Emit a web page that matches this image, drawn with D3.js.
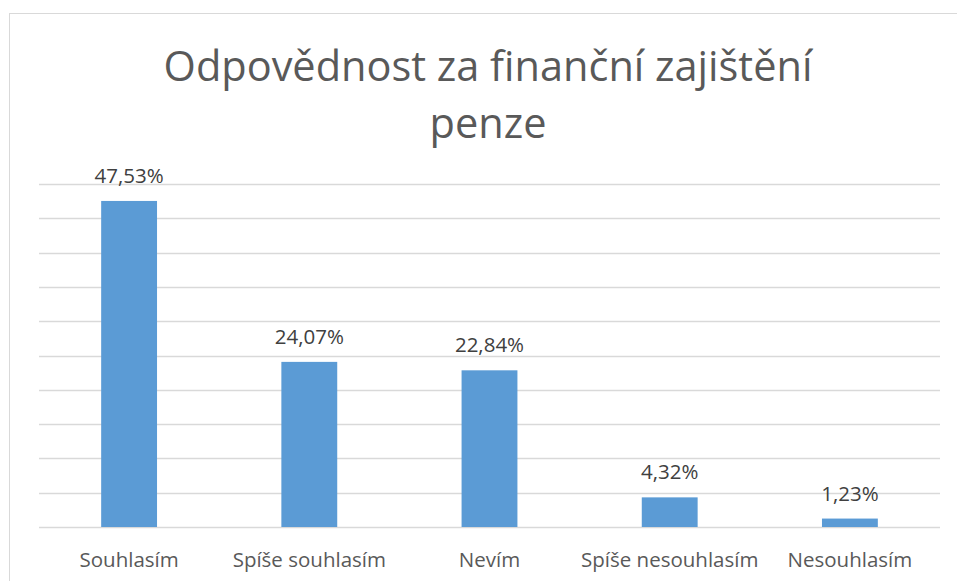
<!DOCTYPE html>
<html>
<head>
<meta charset="utf-8">
<script src="https://cdn.jsdelivr.net/npm/d3@7"></script>
<style>
  body { margin: 0; background: #fff; }
  text { font-family: "Open Sans", "Noto Sans", sans-serif; }
</style>
</head>
<body>
<script>
var categories = ['Souhlasím', 'Spíše souhlasím', 'Nevím', 'Spíše nesouhlasím', 'Nesouhlasím'];
var values = [47.53, 24.07, 22.84, 4.32, 1.23];
var valueLabels = ['47,53%', '24,07%', '22,84%', '4,32%', '1,23%'];
var gridTicks = [0, 5, 10, 15, 20, 25, 30, 35, 40, 45, 50];
var titleLines = ['Odpovědnost za finanční zajištění', 'penze'];

var width = 957;
var height = 581;
var plot = {left: 39, right: 940, top: 184, bottom: 527};

var svg = d3.select('body').append('svg')
  .attr('width', width)
  .attr('height', height);

// chart frame (runs off the right and bottom edge)
svg.append('rect')
  .attr('x', 9.5).attr('y', 13.5)
  .attr('width', 960).attr('height', 600)
  .attr('fill', '#fff')
  .attr('stroke', '#d9d9d9')
  .attr('stroke-width', 1);

var x = d3.scaleBand()
  .domain(categories)
  .range([plot.left, plot.right])
  .paddingInner(0.69)
  .paddingOuter(0.345);

var y = d3.scaleLinear()
  .domain([0, 50])
  .range([plot.bottom, plot.top]);

// gridlines
svg.append('g').selectAll('line')
  .data(gridTicks)
  .enter().append('line')
  .attr('x1', plot.left).attr('x2', plot.right)
  .attr('y1', function(d) { return Math.round(y(d)) + 0.5; })
  .attr('y2', function(d) { return Math.round(y(d)) + 0.5; })
  .attr('stroke', '#d9d9d9')
  .attr('stroke-width', 1.5);

// bars
svg.append('g').selectAll('rect')
  .data(values)
  .enter().append('rect')
  .attr('x', function(d, i) { return x(categories[i]); })
  .attr('y', function(d) { return y(d); })
  .attr('width', x.bandwidth())
  .attr('height', function(d) { return y(0) - y(d); })
  .attr('fill', '#5b9bd5');

// data labels
svg.append('g').selectAll('text')
  .data(values)
  .enter().append('text')
  .attr('x', function(d, i) { return x(categories[i]) + x.bandwidth() / 2; })
  .attr('y', function(d) { return y(d) - 18; })
  .attr('text-anchor', 'middle')
  .attr('font-size', 20.5)
  .attr('fill', '#404040')
  .text(function(d, i) { return valueLabels[i]; });

// category axis
var xAxis = svg.append('g')
  .attr('transform', 'translate(0,' + plot.bottom + ')')
  .call(d3.axisBottom(x).tickSize(0));
xAxis.select('.domain').remove();
xAxis.selectAll('text')
  .attr('y', 40)
  .attr('dy', null)
  .attr('font-size', 20.5)
  .attr('font-family', '"Open Sans", sans-serif')
  .attr('fill', '#595959');

// title
svg.append('g').selectAll('text')
  .data(titleLines)
  .enter().append('text')
  .attr('x', 488)
  .attr('y', function(d, i) { return 81 + i * 57; })
  .attr('text-anchor', 'middle')
  .attr('font-size', 41.5)
  .attr('fill', '#595959')
  .text(function(d) { return d; });
</script>
</body>
</html>
